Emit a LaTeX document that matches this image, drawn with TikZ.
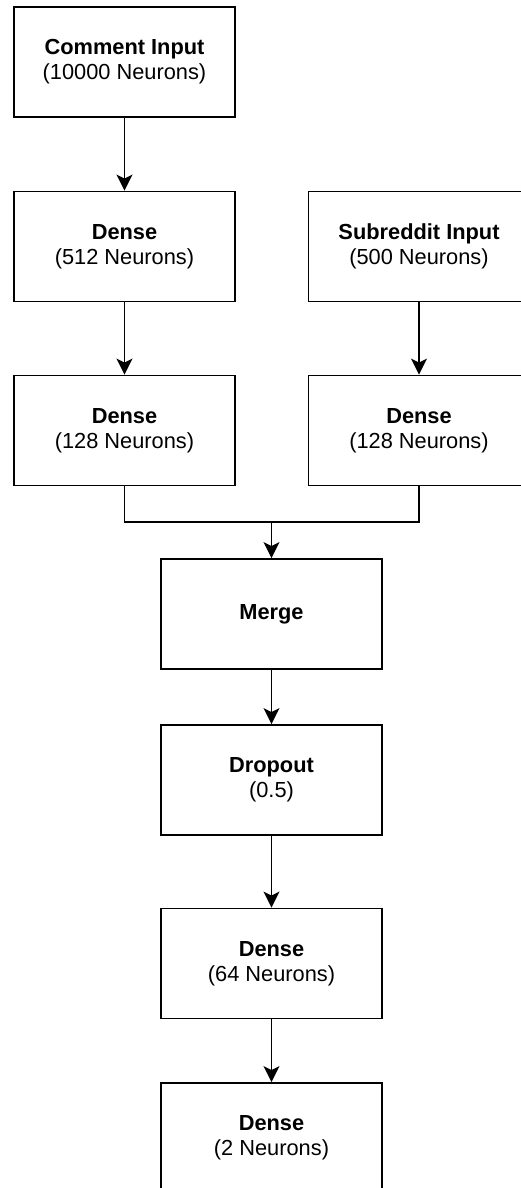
\documentclass[tikz,border=0pt]{standalone}
\usepackage{fontspec}
\setmainfont{Liberation Sans}
\usetikzlibrary{arrows.meta}
\begin{document}
\begin{tikzpicture}[x=1pt,y=-1pt,
  layer/.style={draw=black, line width=1.8pt, fill=white, inner sep=0pt,
    minimum width=221pt, minimum height=110pt, align=center,
    font=\fontsize{21.8}{25}\selectfont},
  flow/.style={line width=1.8pt, -{Stealth[length=16pt, width=16pt, inset=4pt]}},
  wire/.style={line width=1.8pt}]
\useasboundingbox (0,0) rectangle (521,1188);

% left branch: comment text
\node[layer] (com)   at (124.5,62)    {\textbf{Comment Input}\\(10000 Neurons)};
\node[layer] (d512)  at (124.5,246.5) {\textbf{Dense}\\(512 Neurons)};
\node[layer] (d128l) at (124.5,430.5) {\textbf{Dense}\\(128 Neurons)};

% right branch: subreddit one-hot
\node[layer] (sub)   at (419,246.5)   {\textbf{Subreddit Input}\\(500 Neurons)};
\node[layer] (d128r) at (419,430.5)   {\textbf{Dense}\\(128 Neurons)};

% shared trunk
\node[layer] (merge) at (271.5,614)   {\textbf{Merge}};
\node[layer] (drop)  at (271.5,780)   {\textbf{Dropout}\\(0.5)};
\node[layer] (d64)   at (271.5,963.5) {\textbf{Dense}\\(64 Neurons)};
\node[layer] (d2)    at (271.5,1138)  {\textbf{Dense}\\(2 Neurons)};

\coordinate (join) at (271.5,522);

\draw[flow] (com) -- (d512);
\draw[flow] (d512) -- (d128l);
\draw[flow] (sub) -- (d128r);
\draw[wire] (d128l.south) |- (join);
\draw[wire] (d128r.south) |- (join);
\draw[flow] (join) -- (merge.north);
\draw[flow] (merge) -- (drop);
\draw[flow] (drop) -- (d64);
\draw[flow] (d64) -- (d2);
\end{tikzpicture}
\end{document}
